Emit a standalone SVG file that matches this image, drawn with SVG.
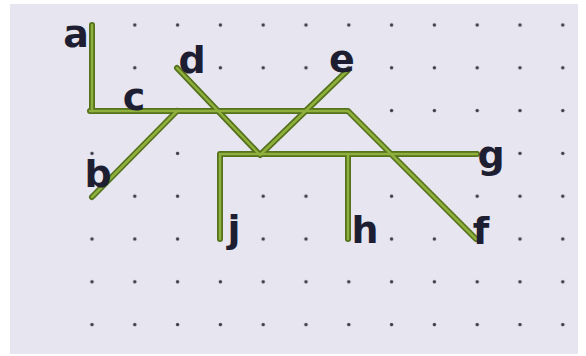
<svg xmlns="http://www.w3.org/2000/svg" xmlns:xlink="http://www.w3.org/1999/xlink" width="586" height="356" viewBox="0 0 586 356">
<style>
.dot{fill:#3a3a48}
.lbl{font-family:"DejaVu Sans",sans-serif;font-weight:bold;font-size:38px;fill:#1e1e32;text-anchor:middle}
.edge{fill:none;stroke-linecap:round;stroke-linejoin:round}
.outer{stroke:#55721c;stroke-width:6}
.inner{stroke:#8fb03c;stroke-width:2.5}
</style>
<defs>
<pattern id="dots" x="70.6" y="3.6" width="42.8" height="42.8" patternUnits="userSpaceOnUse">
<circle class="dot" cx="21.4" cy="21.4" r="1.7"/>
</pattern>
<g id="paths">
<path d="M92,25 L92,111"/>
<path d="M90,111 L348,111 L476,239"/>
<path d="M177,111 L92,197"/>
<path d="M177,68 L260,155 L348,70"/>
<path d="M220,239 L220,154 L477,154"/>
<path d="M348,154 L348,239"/>
</g>
</defs>
<rect width="586" height="356" fill="#ffffff"/>
<rect x="10" y="4" width="568" height="350" fill="#e7e5f0"/>
<rect x="70" y="4" width="508" height="340" fill="url(#dots)"/>
<g id="connectors" class="edge">
<use xlink:href="#paths" class="outer"/>
<use xlink:href="#paths" class="inner"/>
</g>
<g id="node-a"><text class="lbl" x="76" y="47">a</text></g>
<g id="node-c"><text class="lbl" x="134" y="110">c</text></g>
<g id="node-d"><text class="lbl" x="192" y="73">d</text></g>
<g id="node-e"><text class="lbl" x="342" y="72">e</text></g>
<g id="node-b"><text class="lbl" x="98" y="187">b</text></g>
<g id="node-g"><text class="lbl" x="491" y="168">g</text></g>
<g id="node-j"><text class="lbl" x="234" y="242">j</text></g>
<g id="node-h"><text class="lbl" x="365" y="243">h</text></g>
<g id="node-f"><text class="lbl" x="481" y="244">f</text></g>
</svg>
